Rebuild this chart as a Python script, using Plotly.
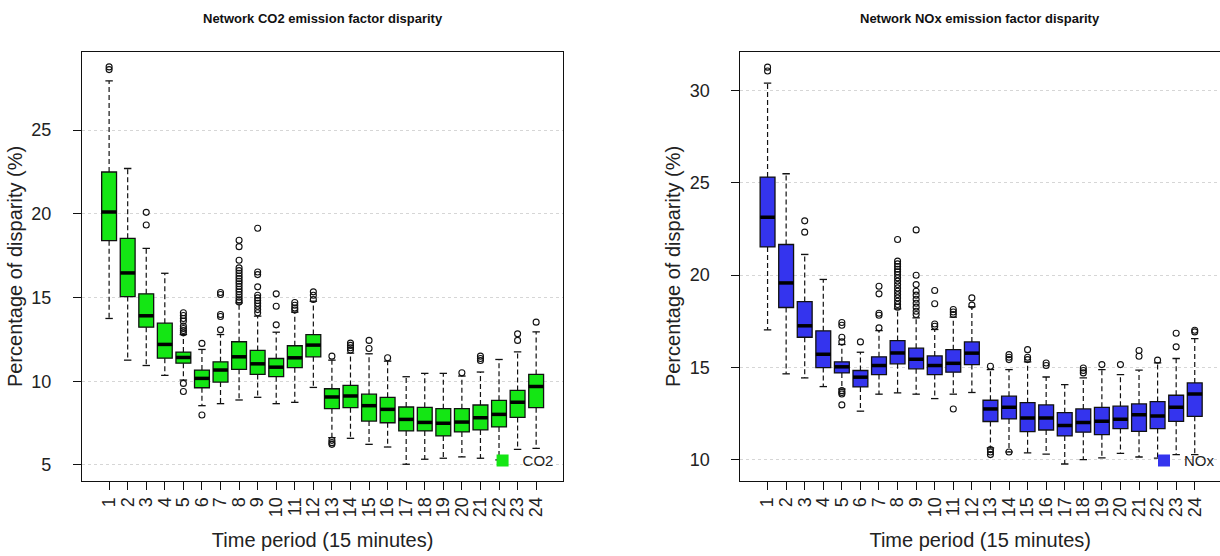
import plotly.graph_objects as go
from plotly.subplots import make_subplots

periods = list(range(1, 25))
tick_labels = [str(p) for p in periods]

# CO2 - Kennwerte je Zeitfenster
co2_low = [13.75, 11.26, 10.94, 10.35, 10.07, 8.54, 8.66, 8.88, 9.04, 8.66, 8.74, 9.63,
           6.63, 6.59, 6.23, 6.07, 5.04, 5.34, 5.40, 5.48, 5.40, 5.30, 5.93, 5.99]
co2_q1 = [18.40, 15.06, 13.23, 11.38, 11.08, 9.61, 9.95, 10.71, 10.41, 10.27, 10.81, 11.46,
          8.36, 8.42, 7.62, 7.52, 7.03, 7.03, 6.73, 6.97, 7.09, 7.27, 7.84, 8.42]
co2_median = [20.11, 16.47, 13.91, 12.20, 11.42, 10.17, 10.67, 11.46, 11.04, 10.84, 11.40, 12.16,
              9.06, 9.12, 8.54, 8.32, 7.72, 7.54, 7.49, 7.56, 7.82, 8.02, 8.74, 9.69]
co2_q3 = [22.50, 18.54, 15.22, 13.47, 11.74, 10.67, 11.16, 12.36, 11.84, 11.36, 12.12, 12.79,
          9.55, 9.75, 9.23, 9.04, 8.46, 8.44, 8.36, 8.36, 8.58, 8.86, 9.45, 10.41]
co2_high = [27.94, 22.71, 17.94, 16.45, 12.79, 11.90, 12.79, 14.68, 13.89, 12.93, 14.13, 14.78,
            11.26, 11.68, 11.64, 11.20, 10.27, 10.47, 10.47, 10.31, 10.55, 11.30, 11.76, 12.95]
co2_outliers = [
    [28.78, 28.62], [], [20.09, 19.33], [],
    [14.09, 13.93, 13.75, 13.59, 13.29, 13.15, 13.03, 12.89, 9.87, 9.39],
    [12.26, 7.98],
    [15.30, 15.18, 13.99, 13.87, 13.07],
    [18.42, 18.04, 17.23, 16.77, 16.61, 16.45, 16.29, 16.13, 15.97, 15.82, 15.66, 15.50,
     15.34, 15.18, 15.02, 14.86, 14.74],
    [19.14, 16.53, 16.37, 15.64, 15.14, 14.98, 14.82, 14.66, 14.48, 14.28, 14.09],
    [15.22, 14.48, 13.37],
    [14.70, 14.54, 14.38, 14.26],
    [15.34, 15.14, 14.88],
    [11.50, 6.47, 6.33, 6.23],
    [12.28, 12.14, 12.00, 11.86],
    [12.44, 11.96],
    [11.40], [], [], [], [10.51],
    [11.50, 11.36, 11.24], [], [12.83, 12.44], [13.53],
]

# NOx - Kennwerte je Zeitfenster
nox_low = [17.04, 14.66, 14.44, 13.97, 13.84, 12.64, 13.56, 13.63, 13.56, 13.32, 13.56, 13.65,
           10.65, 10.43, 10.38, 10.32, 9.78, 10.02, 10.11, 10.36, 10.16, 10.10, 10.29, 10.29]
nox_q1 = [21.53, 18.25, 16.64, 15.00, 14.71, 13.95, 14.62, 15.20, 14.93, 14.62, 14.75, 15.16,
          12.08, 12.22, 11.53, 11.62, 11.30, 11.50, 11.37, 11.70, 11.55, 11.70, 12.09, 12.36]
nox_median = [23.14, 19.58, 17.26, 15.72, 15.04, 14.48, 15.11, 15.79, 15.45, 15.11, 15.23, 15.78,
              12.76, 12.85, 12.27, 12.27, 11.86, 12.02, 12.09, 12.20, 12.45, 12.38, 12.85, 13.57]
nox_q3 = [25.31, 21.66, 18.57, 16.99, 15.31, 14.84, 15.58, 16.46, 16.05, 15.63, 15.97, 16.39,
          13.23, 13.45, 13.10, 12.98, 12.56, 12.76, 12.85, 12.91, 13.03, 13.16, 13.50, 14.17]
nox_high = [30.40, 25.49, 21.12, 19.77, 16.25, 15.83, 17.00, 18.18, 17.69, 17.06, 17.73, 18.29,
            14.89, 14.89, 15.31, 14.49, 14.08, 14.44, 14.89, 14.62, 14.86, 15.25, 15.49, 16.57]
nox_outliers = [
    [31.26, 31.05], [], [22.94, 22.33], [],
    [17.44, 17.29, 16.64, 16.39, 13.75, 13.65, 13.57, 12.98],
    [16.39],
    [19.40, 18.99, 17.94, 17.83, 17.15],
    [21.93, 20.76, 20.61, 20.47, 20.32, 20.18, 20.04, 19.86, 19.68, 19.49, 19.31, 19.13,
     18.95, 18.77, 18.59, 18.41, 18.27],
    [22.45, 20.00, 19.49, 19.13, 18.92, 18.70, 18.48, 18.27, 18.05, 17.87],
    [19.17, 18.45, 17.36, 17.24],
    [18.14, 18.01, 17.87, 12.76],
    [18.77, 18.38],
    [15.07, 10.56, 10.43, 10.29],
    [15.70, 15.56, 15.43, 10.43],
    [15.97, 15.56, 15.43],
    [15.25, 15.11], [], [14.98, 14.84, 14.71], [15.16], [15.16],
    [15.92, 15.61], [15.40], [16.86, 16.12], [17.02, 16.93],
]

FONT = "Liberation Sans, Arial, sans-serif"
GREEN = "#14e614"
BLUE = "#3434ee"
BOX_W = 0.8


def add_panel(fig, col, low, q1, med, q3, high, outliers, color, name, legend):
    # Boxen (Whisker werden separat gestrichelt gezeichnet)
    fig.add_trace(go.Box(x=periods, q1=q1, median=med, q3=q3, lowerfence=q1, upperfence=q3,
                         width=BOX_W, fillcolor=color, line=dict(color="#111111", width=1.3),
                         showlegend=False, hoverinfo="skip"), row=1, col=col)

    wx, wy = [], []
    cx, cy = [], []
    mx, my = [], []
    for p, a, b, c, d, m in zip(periods, low, q1, q3, high, med):
        wx += [p, p, None, p, p, None]
        wy += [b, a, None, c, d, None]
        cx += [p - BOX_W / 4, p + BOX_W / 4, None, p - BOX_W / 4, p + BOX_W / 4, None]
        cy += [a, a, None, d, d, None]
        mx += [p - BOX_W / 2, p + BOX_W / 2, None]
        my += [m, m, None]
    fig.add_trace(go.Scatter(x=wx, y=wy, mode="lines", line=dict(color="#111111", width=1.2, dash="5px,3px"),
                             showlegend=False, hoverinfo="skip"), row=1, col=col)
    fig.add_trace(go.Scatter(x=cx, y=cy, mode="lines", line=dict(color="#111111", width=1.3),
                             showlegend=False, hoverinfo="skip"), row=1, col=col)
    fig.add_trace(go.Scatter(x=mx, y=my, mode="lines", line=dict(color="#000000", width=3.5),
                             showlegend=False, hoverinfo="skip"), row=1, col=col)

    ox, oy = [], []
    for p, vals in zip(periods, outliers):
        ox += [p] * len(vals)
        oy += vals
    fig.add_trace(go.Scatter(x=ox, y=oy, mode="markers",
                             marker=dict(symbol="circle-open", size=6, color="#111111", line=dict(width=1.1)),
                             showlegend=False, hoverinfo="skip"), row=1, col=col)

    # Legendeneintrag
    fig.add_trace(go.Scatter(x=[None], y=[None], mode="markers", name=name, legend=legend,
                             marker=dict(symbol="square", size=12, color=color)), row=1, col=col)


fig = make_subplots(rows=1, cols=2)
add_panel(fig, 1, co2_low, co2_q1, co2_median, co2_q3, co2_high, co2_outliers, GREEN, "CO2", "legend")
add_panel(fig, 2, nox_low, nox_q1, nox_median, nox_q3, nox_high, nox_outliers, BLUE, "NOx", "legend2")

axis_common = dict(ticks="outside", ticklen=8, tickcolor="#111111", tickwidth=1,
                   linecolor="#111111", linewidth=1.3, showline=True, zeroline=False, automargin=False,
                   tickfont=dict(family=FONT, size=18, color="#222222"), layer="above traces")

fig.update_xaxes(**axis_common, tickmode="array", tickvals=periods, ticktext=tick_labels,
                 tickangle=-90, showgrid=False, mirror=True,
                 title=dict(text="Time period (15 minutes)", font=dict(family=FONT, size=20, color="#222222"),
                            standoff=16))
fig.update_yaxes(**axis_common, tickmode="linear", dtick=5, showgrid=True, gridcolor="#d6d6d6",
                 griddash="dot", gridwidth=1, ticklabelstandoff=18,
                 title=dict(text="Percentage of disparity (%)", font=dict(family=FONT, size=20, color="#222222"),
                            standoff=3))

fig.update_layout(
    xaxis=dict(domain=[0.0, 0.4229], range=[-0.46, 25.46]),
    xaxis2=dict(domain=[0.5786, 1.0], range=[-0.46, 25.36]),
    yaxis=dict(range=[4.04, 29.67], tick0=5, mirror=True),
    yaxis2=dict(range=[8.86, 32.08], tick0=10, mirror=False),
)

fig.add_annotation(text="<b>Network CO2 emission factor disparity</b>", xref="x domain", yref="paper",
                   x=0.5, y=1.079, showarrow=False, yanchor="middle",
                   font=dict(family=FONT, size=13, color="#111111"))
fig.add_annotation(text="<b>Network NOx emission factor disparity</b>", xref="x2 domain", yref="paper",
                   x=0.5, y=1.079, showarrow=False, yanchor="middle",
                   font=dict(family=FONT, size=13, color="#111111"))

legend_style = dict(bgcolor="rgba(0,0,0,0)", borderwidth=0, yanchor="middle",
                    font=dict(family=FONT, size=15, color="#222222"), itemwidth=30)
fig.update_layout(
    legend=dict(**legend_style, x=0.352, xanchor="left", y=0.047),
    legend2=dict(**legend_style, x=1.0, xanchor="right", y=0.047),
    width=1220, height=556,
    margin=dict(l=81.6, r=0, t=52, b=75, autoexpand=False),
    paper_bgcolor="white", plot_bgcolor="white",
    font=dict(family=FONT),
)

# Seitenrand des Browsers entfernen, damit die Grafik bei (0,0) beginnt
fig.write_html("out.html", config={"displayModeBar": False},
               post_script="document.body.style.margin='0';")
